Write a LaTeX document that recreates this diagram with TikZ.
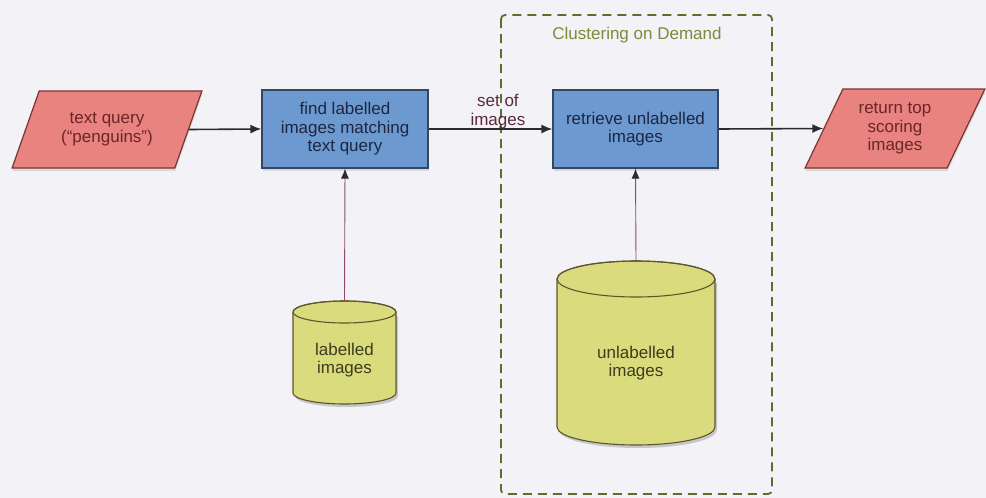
\documentclass[tikz,border=0pt]{standalone}
\usepackage{fontspec}
\setmainfont{Liberation Sans}
\usetikzlibrary{shapes.geometric,arrows.meta,shadows}

\definecolor{pagebg}{HTML}{F3F2F6}
\definecolor{ioFill}{HTML}{E8837F}
\definecolor{ioDraw}{HTML}{7A3434}
\definecolor{ioText}{HTML}{6B2626}
\definecolor{procFill}{HTML}{6C9AD0}
\definecolor{procDraw}{HTML}{37465F}
\definecolor{procText}{HTML}{1E2540}
\definecolor{dbFill}{HTML}{DADB7C}
\definecolor{dbDraw}{HTML}{5E5530}
\definecolor{dbText}{HTML}{3C3C1E}
\definecolor{groupDraw}{HTML}{5E6D2E}
\definecolor{groupText}{HTML}{7A8B3A}
\definecolor{feedLine}{HTML}{8E4A6E}
\definecolor{flowLine}{HTML}{2A2A30}
\definecolor{labelText}{HTML}{5A2A3A}

\tikzset{
  txt/.style={font=\fontsize{17}{18.5}\selectfont, align=center},
  softshadow/.style={drop shadow={shadow xshift=0.5pt, shadow yshift=-3pt, opacity=0.22}},
  iobox/.style={txt, trapezium, trapezium stretches=true,
    trapezium left angle=63.7, trapezium right angle=116.3,
    fill=ioFill, draw=ioDraw, line width=1.2pt, text=ioText, softshadow},
  procbox/.style={txt, rectangle, fill=procFill, draw=procDraw, line width=1.2pt,
    text=procText, minimum width=166pt, minimum height=78pt, inner sep=2pt, softshadow},
  dbpaint/.style={fill=dbFill, draw=dbDraw, line width=1.1pt},
  dblabel/.style={txt, text=dbText},
  flow/.style={draw=flowLine, line width=1.6pt, -{Latex[length=11pt,width=9pt]}},
  feed/.style={draw=feedLine, line width=0.9pt, -{Latex[length=10pt,width=8pt,color=flowLine]}},
  groupbox/.style={draw=groupDraw, line width=1.8pt, dash pattern=on 9pt off 6pt, rounded corners=4pt},
}

\begin{document}
\begin{tikzpicture}[x=1pt,y=1pt]
  % page
  \fill[pagebg] (0,0) rectangle (986,-498);
  \useasboundingbox (0,0) rectangle (986,-498);

  % dashed group
  \draw[groupbox] (501,-15) rectangle (772,-494);
  \node[font=\fontsize{17}{18.5}\selectfont, text=groupText] (grouplabel) at (637,-35) {Clustering on Demand};

  % input / output
  \node[iobox, minimum width=190pt, minimum height=77pt] (query) at (107,-129.5) {text query\\(``penguins'')};
  \node[iobox, minimum width=180pt, minimum height=79pt] (result) at (895,-128.5) {return top\\scoring\\images};

  % processes
  \node[procbox] (find) at (345,-129) {find labelled\\images matching\\text query};
  \node[procbox, minimum width=165pt] (retrieve) at (635.5,-129) {retrieve unlabelled\\images};

  % labelled images store
  \fill[black, opacity=0.18] (295,-316) -- (295,-396) arc[start angle=180,end angle=360,x radius=51.5,y radius=11] -- (398,-316) -- cycle;
  \path[dbpaint] (293,-312) -- (293,-393) arc[start angle=180,end angle=360,x radius=51.5,y radius=11]
     -- (396,-312) arc[start angle=0,end angle=180,x radius=51.5,y radius=11] -- cycle;
  \draw[dbDraw, line width=1.1pt] (344.5,-312) ellipse[x radius=51.5, y radius=11];
  \node[dblabel] (labdb) at (344.5,-360) {labelled\\images};
  \coordinate (labtop) at (344.5,-301);

  % unlabelled images store
  \fill[black, opacity=0.18] (559,-283) -- (559,-430) arc[start angle=180,end angle=360,x radius=79,y radius=18] -- (717,-283) -- cycle;
  \path[dbpaint] (557,-279) -- (557,-427) arc[start angle=180,end angle=360,x radius=79,y radius=18]
     -- (715,-279) arc[start angle=0,end angle=180,x radius=79,y radius=18] -- cycle;
  \draw[dbDraw, line width=1.1pt] (636,-279) ellipse[x radius=79, y radius=18];
  \node[dblabel] (unlabdb) at (636,-363) {unlabelled\\images};
  \coordinate (unlabtop) at (636,-261);

  % connectors
  \draw[flow] (query.east) -- (find.west);
  \draw[flow] (find.east) -- node[txt, text=labelText, above=-4pt, pos=0.56] (setlabel) {set of\\images} (retrieve.west);
  \draw[flow] (retrieve.east) -- (result.west);
  \draw[feed] (labtop) -- (find.south);
  \draw[feed] (unlabtop) -- (retrieve.south);
\end{tikzpicture}
\end{document}
